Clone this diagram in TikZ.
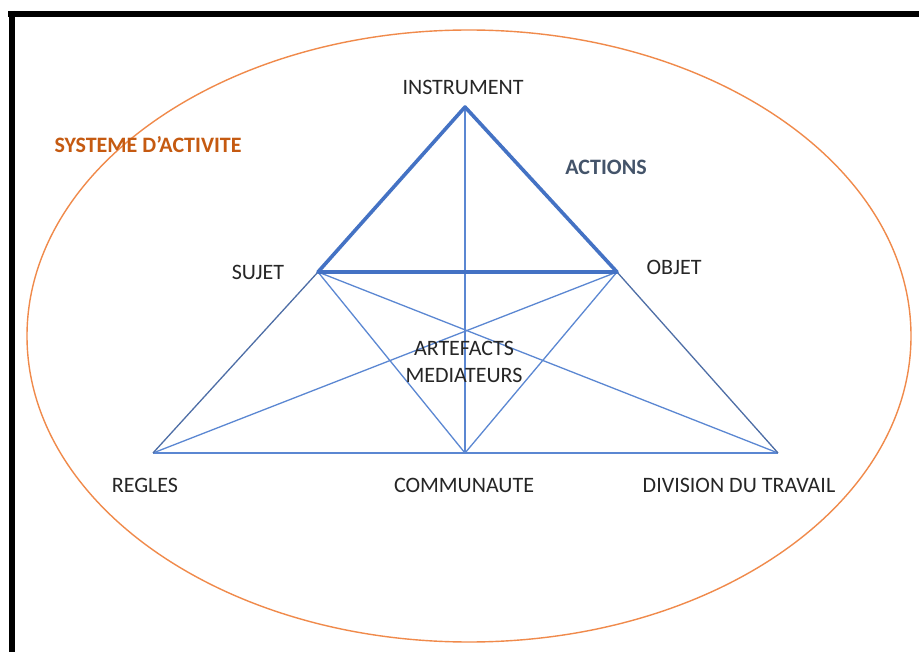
\documentclass[tikz,border=0pt]{standalone}
\usepackage{fontspec}
\setmainfont{Carlito}
\definecolor{ellorange}{HTML}{F08A4B}
\definecolor{sysorange}{HTML}{C55A11}
\definecolor{actgray}{HTML}{44546A}
\definecolor{thickblue}{HTML}{4472C4}
\definecolor{thinblue}{HTML}{5B87D2}
\definecolor{sideblue}{HTML}{4E6EA6}
\tikzset{
  lbl/.style={inner sep=0pt, font=\fontsize{22}{27}\selectfont, text=black!85, align=center},
  thickline/.style={draw=thickblue, line width=3.6pt, line join=round, line cap=round},
  thinline/.style={draw=thinblue, line width=1.3pt},
  sideline/.style={draw=sideblue, line width=1.3pt},
  frameline/.style={draw=black, line width=6pt}
}
\begin{document}
\begin{tikzpicture}[x=1pt,y=-1pt]
\useasboundingbox (0,0) rectangle (919,652);
\fill[white] (0,0) rectangle (919,652);
% frame
\coordinate (fa) at (8,14);
\coordinate (fb) at (919,14);
\coordinate (fc) at (11.5,11);
\coordinate (fd) at (11.5,652);
\draw[frameline] (fa) -- (fb);
\draw[frameline] (fc) -- (fd);
% ellipse
\coordinate (ec) at (469,336);
\draw[ellorange, line width=1.4pt] (ec) ellipse [x radius=442, y radius=306];
% vertices
\coordinate (ins) at (465,107);
\coordinate (suj) at (318,272);
\coordinate (obj) at (617,272);
\coordinate (reg) at (153,453);
\coordinate (com) at (465,453);
\coordinate (div) at (778,453);
% thin lines
\draw[thinline] (ins) -- (com);
\draw[thinline] (reg) -- (div);
\draw[thinline] (suj) -- (com);
\draw[thinline] (suj) -- (div);
\draw[thinline] (obj) -- (reg);
\draw[thinline] (obj) -- (com);
\draw[sideline] (suj) -- (reg);
\draw[sideline] (obj) -- (div);
% thick triangle
\draw[thickline] (suj) -- (ins) -- (obj) -- cycle;
% labels
\node[lbl] (tins) at (463,87) {INSTRUMENT};
\node[lbl] (tsuj) at (258,272) {SUJET};
\node[lbl] (tobj) at (674,267) {OBJET};
\node[lbl] (tart) at (464,362) {ARTEFACTS\\MEDIATEURS};
\node[lbl] (treg) at (145,485) {REGLES};
\node[lbl] (tcom) at (464,485) {COMMUNAUTE};
\node[lbl] (tdiv) at (739,485) {DIVISION DU TRAVAIL};
\node[lbl, text=sysorange, font=\fontsize{22}{24}\selectfont\bfseries] (tsys) at (148,145) {SYSTEME D’ACTIVITE};
\node[lbl, text=actgray, font=\fontsize{22}{24}\selectfont\bfseries] (tact) at (606,167) {ACTIONS};
\end{tikzpicture}
\end{document}
